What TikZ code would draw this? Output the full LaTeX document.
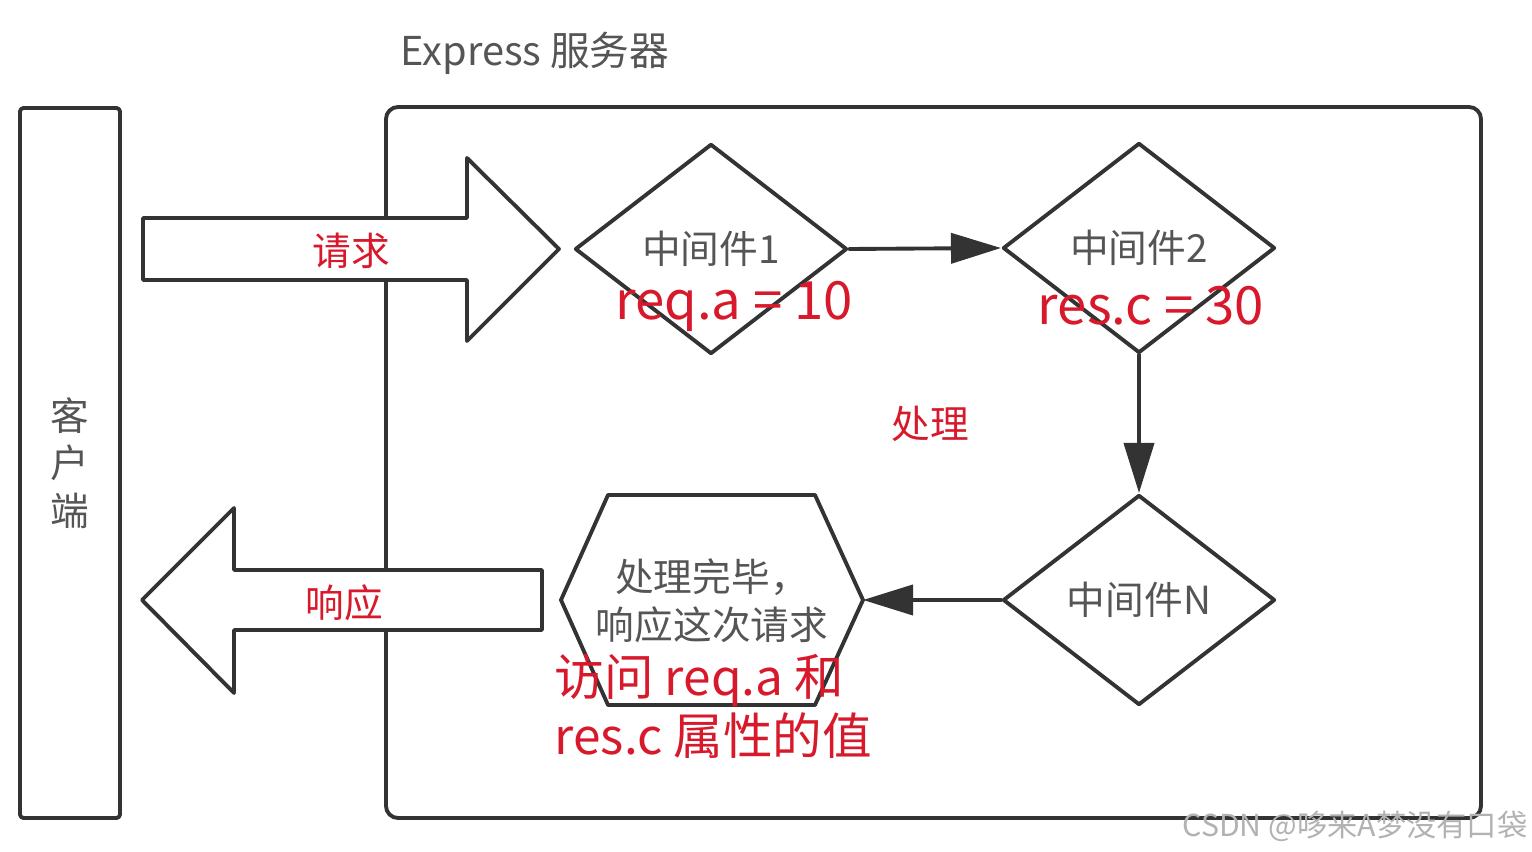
\documentclass[tikz,border=0pt]{standalone}
\usepackage{fontspec}
\setmainfont{Noto Sans CJK SC}
\usepackage{tikz}
\usetikzlibrary{shapes.geometric,arrows.meta}

\definecolor{linegray}{HTML}{333333}
\definecolor{txtgray}{HTML}{555555}
\definecolor{mkred}{HTML}{D8192B}

\begin{document}
\begin{tikzpicture}[x=0.01cm, y=-0.01cm, line cap=round, line join=round,
	frame/.style={draw=linegray, line width=1.1pt},
	mid/.style={diamond, draw=linegray, line width=1.1pt, aspect=1.3,
		minimum width=2.72cm, minimum height=2.1cm, inner sep=0pt,
		text=txtgray, font=\fontsize{11}{13}\selectfont},
	redtxt/.style={text=mkred, font=\fontsize{15}{17}\selectfont},
	tag/.style={text=mkred, font=\fontsize{11}{13}\selectfont},
	graytxt/.style={text=txtgray, font=\fontsize{11}{13.6}\selectfont},
	flow/.style={draw=linegray, line width=1.1pt, -{Triangle[length=0.5cm,width=0.3cm]}}]
	
	\useasboundingbox (0,0) rectangle (1532,852);
	
	%====================
	% 1) 客户端与服务器外框
	%====================
	\draw[frame, rounded corners=1pt] (20,108) rectangle (120,818);
	\node[graytxt, align=center] (client) at (70,463) {客\\户\\端};
	
	\draw[frame, rounded corners=0.12cm] (386,107) rectangle (1481,818);
	\node[graytxt, font=\fontsize{11.3}{13}\selectfont] (server) at (535,53) {Express 服务器};
	
	%====================
	% 2) 请求 / 响应 大箭头（白色填充，压住外框）
	%====================
	\draw[frame, fill=white] (143,218) -- (467,218) -- (467,158) -- (559,249)
		-- (467,341) -- (467,280) -- (143,280) -- cycle;
	\node[tag] (req) at (351,251) {请求};
	
	\draw[frame, fill=white] (542,570) -- (234,570) -- (234,508) -- (142,600)
		-- (234,693) -- (234,630) -- (542,630) -- cycle;
	\node[tag] (res) at (344,603) {响应};
	
	%====================
	% 3) 中间件
	%====================
	\node[mid] (m1) at (711,249) {中间件1};
	\node[mid] (m2) at (1139,248) {中间件2};
	\node[mid] (mN) at (1139,600) {中间件N};
	
	\node[redtxt] (seta) at (734,306) {req.a = 10};
	\node[redtxt] (setc) at (1151,306) {res.c = 30};
	\node[tag] (proc) at (930,424) {处理};
	
	%====================
	% 4) 处理完毕（六边形）
	%====================
	\draw[frame] (608,495) -- (815,495) -- (863,600) -- (815,705) -- (608,705) -- (561,600) -- cycle;
	\coordinate (hexR) at (863,600);
	\node[graytxt, align=center] (done) at (712,601) {处理完毕，\\响应这次请求};
	\node[redtxt, font=\fontsize{14.1}{16}\selectfont, anchor=west, inner sep=0pt] (use1) at (554,680) {访问 req.a 和};
	\node[redtxt, font=\fontsize{14.1}{16}\selectfont, anchor=west, inner sep=0pt] (use2) at (554,736) {res.c 属性的值};
	
	%====================
	% 5) 连线
	%====================
	\draw[flow] (m1.east) -- (m2.west);
	\draw[flow] (m2.south) -- (mN.north);
	\draw[flow] (mN.west) -- (hexR);
	
	% 水印
	\node[text=black!30, font=\fontsize{8.6}{10}\selectfont, anchor=east, inner sep=0pt] (mark) at (1528,826) {CSDN @哆来A梦没有口袋};
	
\end{tikzpicture}
\end{document}
